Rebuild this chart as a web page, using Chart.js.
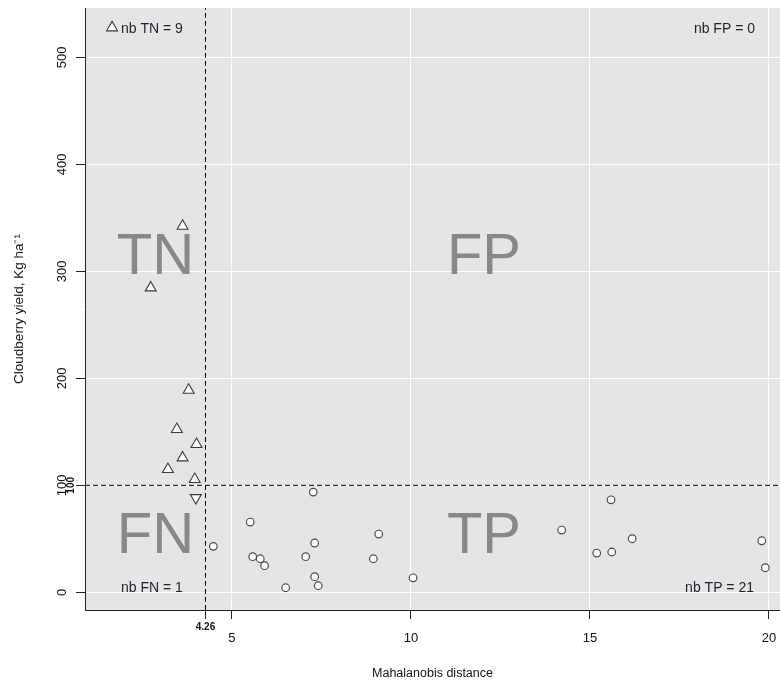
<!DOCTYPE html>
<html><head><meta charset="utf-8">
<script src="https://cdn.jsdelivr.net/npm/chart.js@4.4.1/dist/chart.umd.min.js"></script>
<style>html,body{margin:0;padding:0;background:#fff}#wrap{width:780px;height:682px}</style>
</head><body><div id="wrap"><canvas id="c" width="780" height="682"></canvas></div>
<script>
// Data
const tnX = [1.65, 3.62, 2.73, 3.79, 3.46, 4.01, 3.62, 3.21, 3.96];
const tnY = [527.7, 342.3, 284.7, 189, 152.3, 138.3, 125.8, 115, 105.6];
const fnX = [3.99];
const fnY = [88.4];
const tpX = [7.27, 5.51, 4.48, 7.31, 5.58, 5.79, 5.91, 7.06, 7.31, 7.41, 6.50, 9.10, 8.95, 10.06, 15.59, 14.21, 16.18, 15.19, 15.61, 19.80, 19.90];
const tpY = [93.7, 65.7, 43, 46.1, 33.3, 31.4, 24.9, 33.3, 14.6, 6.2, 4.3, 54.5, 31.4, 13.6, 86.5, 58.2, 50.1, 36.7, 37.7, 48.2, 23];
const thresholdX = 4.26;
const thresholdY = 100;
const xTicks = [5, 10, 15, 20];
const yTicks = [0, 100, 200, 300, 400, 500];
const quadLabels = ['TN', 'FP', 'FN', 'TP'];
const quadCounts = ['nb TN = 9', 'nb FP = 0', 'nb FN = 1', 'nb TP = 21'];
const xRange = [0.894, 20.31];
const yRange = [-16.5, 546.1];

const zip = (xs, ys) => xs.map((x, i) => ({x, y: ys[i]}));
const FONT = '"Liberation Sans", Arial, sans-serif';

const overlay = {
  id: 'overlay',
  beforeDraw(chart) {
    const {ctx, chartArea: a} = chart;
    ctx.save();
    ctx.fillStyle = '#e5e5e5';
    ctx.fillRect(a.left, a.top, a.right - a.left, a.bottom - a.top);
    ctx.restore();
  },
  beforeDatasetsDraw(chart) {
    const {ctx, chartArea: a, scales: {x, y}} = chart;
    ctx.save();
    ctx.fillStyle = '#888888';
    ctx.font = '58px ' + FONT;
    ctx.textAlign = 'center';
    ctx.textBaseline = 'middle';
    const cxL = x.getPixelForValue(2.86), cxR = x.getPixelForValue(12.04);
    const cyT = y.getPixelForValue(312), cyB = y.getPixelForValue(51.7);
    ctx.fillText(quadLabels[0], cxL, cyT);
    ctx.fillText(quadLabels[1], cxR, cyT);
    ctx.fillText(quadLabels[2], cxL, cyB);
    ctx.fillText(quadLabels[3], cxR, cyB);
    ctx.fillStyle = '#1f1f2f';
    ctx.font = '14px ' + FONT;
    ctx.textAlign = 'left';
    ctx.fillText(quadCounts[0], a.left + 36, a.top + 21);
    ctx.fillText(quadCounts[2], a.left + 36, a.bottom - 22);
    ctx.textAlign = 'right';
    ctx.fillText(quadCounts[1], a.right - 25, a.top + 21);
    ctx.fillText(quadCounts[3], a.right - 26, a.bottom - 22);
    ctx.restore();
  },
  afterDraw(chart) {
    const {ctx, chartArea: a, scales: {x, y}} = chart;
    ctx.save();
    ctx.fillStyle = '#111';
    ctx.font = 'bold 10px ' + FONT;
    ctx.textAlign = 'center';
    ctx.textBaseline = 'middle';
    ctx.fillText(String(thresholdX), x.getPixelForValue(thresholdX), a.bottom + 17);
    ctx.translate(a.left - 14, y.getPixelForValue(thresholdY));
    ctx.rotate(-Math.PI / 2);
    ctx.fillText(String(thresholdY), 0, 0);
    ctx.restore();
  }
};

const noPad = s => { s.paddingLeft = 0; s.paddingRight = 0; s.paddingTop = 0; s.paddingBottom = 0; };

new Chart(document.getElementById('c'), {
  type: 'scatter',
  data: {
    datasets: [
      {label: 'TP', data: zip(tpX, tpY), pointStyle: 'circle', pointRadius: 3.8, pointBackgroundColor: '#fff', pointBorderColor: '#4a4a4a', pointBorderWidth: 1.2},
      {label: 'TN', data: zip(tnX, tnY), pointStyle: 'triangle', pointRadius: 6.3, pointBackgroundColor: '#fff', pointBorderColor: '#3a3a3a', pointBorderWidth: 1.1},
      {label: 'FN', data: zip(fnX, fnY), pointStyle: 'triangle', rotation: 180, pointRadius: 6.3, pointBackgroundColor: '#fff', pointBorderColor: '#3a3a3a', pointBorderWidth: 1.1},
      {type: 'line', label: 'vline', data: [{x: thresholdX, y: yRange[0]}, {x: thresholdX, y: yRange[1]}], borderColor: '#000', borderWidth: 1, borderDash: [5, 3], pointRadius: 0, showLine: true},
      {type: 'line', label: 'hline', data: [{x: xRange[0], y: thresholdY}, {x: xRange[1], y: thresholdY}], borderColor: '#000', borderWidth: 1, borderDash: [5, 3], pointRadius: 0, showLine: true}
    ]
  },
  options: {
    responsive: false,
    animation: false,
    events: [],
    layout: {autoPadding: false, padding: {top: 8, right: 0, bottom: 0, left: 0}},
    plugins: {legend: {display: false}, tooltip: {enabled: false}},
    scales: {
      x: {
        type: 'linear', min: xRange[0], max: xRange[1],
        afterBuildTicks: s => { s.ticks = [thresholdX, ...xTicks].map(v => ({value: v})); },
        afterFit: s => { s.height = 72; noPad(s); },
        ticks: {autoSkip: false, padding: 12, color: '#111', font: {family: FONT, size: 13},
          maxRotation: 0, minRotation: 0,
          callback: v => (v === thresholdX ? '' : String(v))},
        grid: {color: c => (c.tick && c.tick.value === thresholdX ? 'rgba(0,0,0,0)' : '#ffffff'), lineWidth: 1, tickLength: 9, tickColor: '#222'},
        border: {display: true, color: '#222', width: 1},
        title: {display: true, text: 'Mahalanobis distance', color: '#111', font: {family: FONT, size: 12.5}, padding: {top: 0, bottom: 1}}
      },
      y: {
        type: 'linear', min: yRange[0], max: yRange[1],
        afterBuildTicks: s => { s.ticks = yTicks.map(v => ({value: v})); },
        afterFit: s => { s.width = 85; noPad(s); },
        ticks: {autoSkip: false, padding: 3, color: '#111', font: {family: FONT, size: 13},
          minRotation: 90, maxRotation: 90, crossAlign: 'center',
          callback: v => String(v)},
        grid: {color: '#ffffff', lineWidth: 1, tickLength: 9, tickColor: '#222'},
        border: {display: true, color: '#222', width: 1},
        title: {display: true, text: 'Cloudberry yield, Kg ha⁻¹', color: '#111', font: {family: FONT, size: 13.5}, padding: {top: 11, bottom: 0}}
      }
    }
  },
  plugins: [overlay]
});
</script></body></html>
